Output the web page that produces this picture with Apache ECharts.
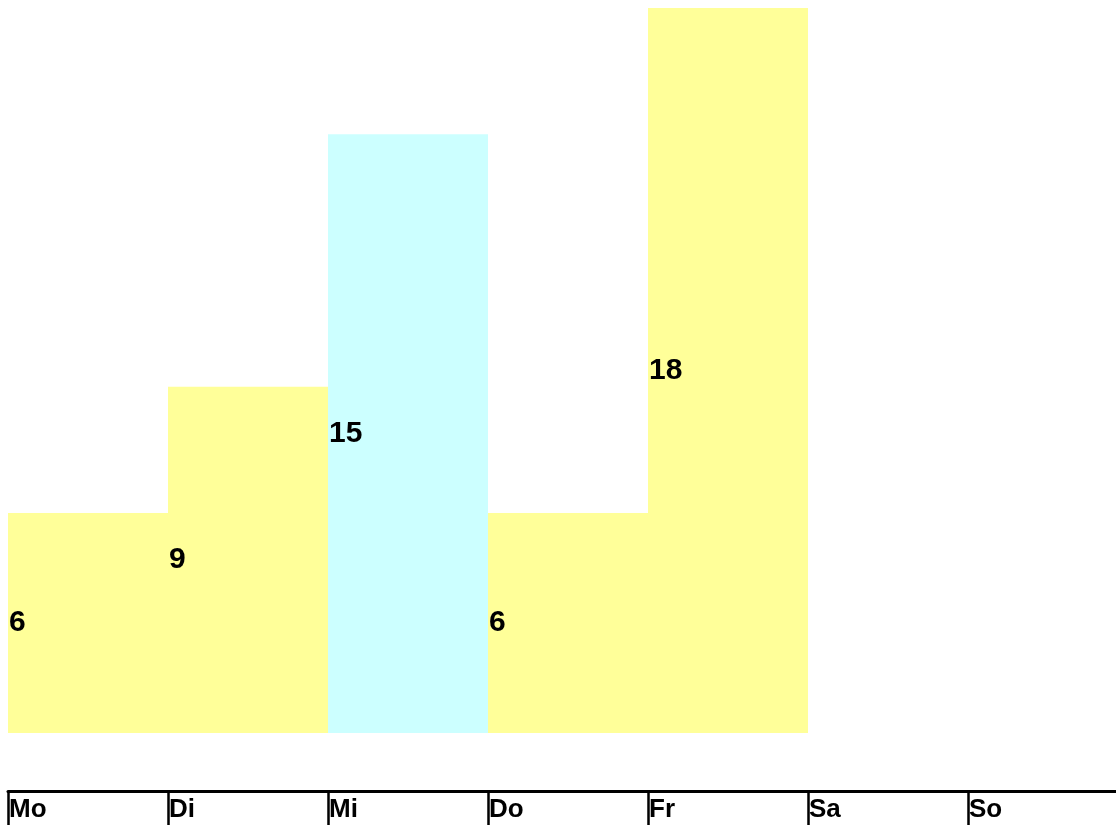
<!DOCTYPE html>
<html>
<head>
<meta charset="utf-8">
<script src="https://cdn.jsdelivr.net/npm/echarts@6/dist/echarts.min.js"></script>
<style>
  html, body { margin: 0; padding: 0; background: #ffffff; overflow: hidden; width: 1116px; height: 825px; }
  /* the last weekday slot runs past the right edge of the page */
  #chart { width: 1128px; height: 825px; }
</style>
</head>
<body>
<div id="chart"></div>
<script>
// Weekday categories and their values (weekend left empty)
const days = ['Mo', 'Di', 'Mi', 'Do', 'Fr', 'Sa', 'So'];
const values = [6, 9, 15, 6, 18, null, null];
const highlightDay = 'Mi';

const chart = echarts.init(document.getElementById('chart'), null, { renderer: 'canvas' });

const FONT = '"Liberation Sans", Arial, sans-serif';

chart.setOption({
  animation: false,
  backgroundColor: '#ffffff',
  grid: { left: 8, top: 8, right: 0, bottom: 92, containLabel: false },
  xAxis: {
    type: 'category',
    data: days,
    boundaryGap: true,
    offset: 58,
    axisLine: { show: true, lineStyle: { color: '#000000', width: 3 } },
    axisTick: { show: true, length: 36, lineStyle: { color: '#000000', width: 2.5 } },
    axisLabel: {
      interval: 0,
      margin: 6,
      formatter: (v) => '{d|' + v + '}',
      rich: {
        d: {
          width: 160,
          align: 'left',
          padding: [0, 0, 0, 2],
          fontFamily: FONT,
          fontWeight: 'bold',
          fontSize: 26,
          color: '#000000'
        }
      }
    },
    splitLine: { show: false }
  },
  yAxis: {
    type: 'value',
    min: 0.77,
    max: 18,
    show: false,
    splitLine: { show: false }
  },
  series: [{
    type: 'bar',
    data: values,
    barCategoryGap: 0,
    barGap: 0,
    itemStyle: {
      color: (p) => (p.name === highlightDay ? '#ccffff' : '#ffff99')
    },
    label: {
      show: true,
      position: 'insideLeft',
      distance: 1,
      fontFamily: FONT,
      fontWeight: 'bold',
      fontSize: 30,
      color: '#000000'
    }
  }]
});
</script>
</body>
</html>
